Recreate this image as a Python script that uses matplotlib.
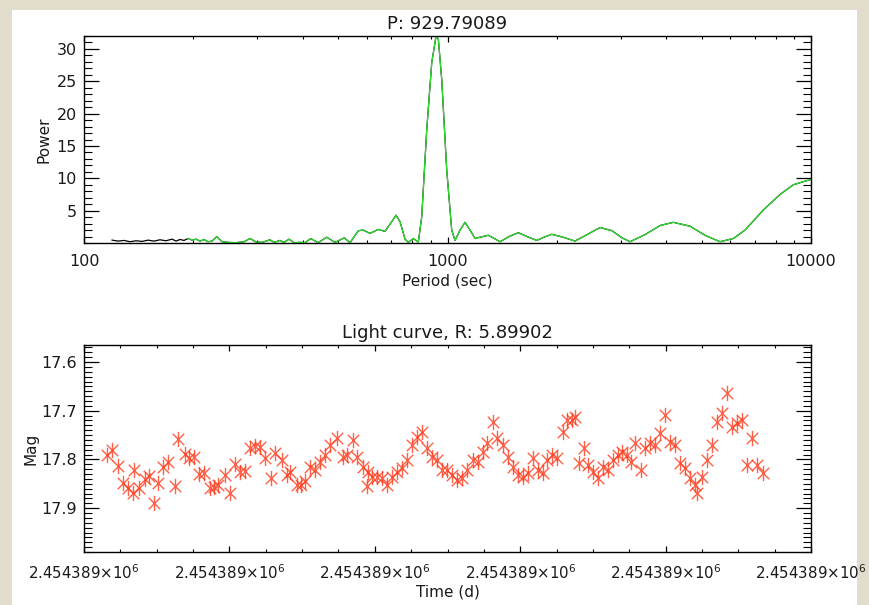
import matplotlib
matplotlib.use('Agg')
import matplotlib.pyplot as plt
from matplotlib.path import Path
from matplotlib.patches import Rectangle
from matplotlib.ticker import MultipleLocator, FixedLocator, FixedFormatter, LogLocator, NullFormatter, FuncFormatter

# periodogram (period in sec, power)
period = [119.4, 124.0, 128.9, 133.8, 139.0, 144.4, 150.0, 155.8, 161.8, 168.1,
          174.6, 179.1, 183.7, 188.4, 193.2, 198.2, 203.3, 208.5, 213.9, 219.3,
          225.0, 231.8, 239.7, 249.0, 261.9, 275.5, 286.2, 297.3, 308.8, 324.8,
          333.2, 346.0, 354.9, 366.4, 378.2, 392.8, 405.5, 420.4, 440.3, 465.2,
          490.3, 520.1, 539.2, 568.3, 585.5, 612.0, 645.1, 673.0, 702.3, 721.6,
          740.2, 764.0, 780.1, 805.2, 831.2, 849.3, 876.6, 904.9, 929.79, 943.4,
          963.9, 994.9, 1026.9, 1048.7, 1082.5, 1117.3, 1153.3, 1190.5, 1228.8, 1295.1,
          1394.6, 1476.4, 1566.0, 1654.8, 1759.7, 1842.9, 1935.0, 2078.5, 2242.8, 2419.8,
          2627.7, 2835.4, 3020.0, 3177.0, 3494.4, 3842.6, 4180.6, 4647.0, 5109.6, 5619.0,
          6113.5, 6583.0, 7392.0, 8216.5, 8940.4, 9935.3]
power = [0.45, 0.3, 0.4, 0.2, 0.35, 0.25, 0.45, 0.3, 0.5, 0.35,
         0.6, 0.3, 0.55, 0.4, 0.7, 0.45, 0.6, 0.3, 0.55, 0.2,
         0.3, 1.0, 0.2, 0.1, 0.05, 0.2, 0.7, 0.15, 0.1, 0.5,
         0.1, 0.4, 0.1, 0.6, 0.05, 0.1, 0.05, 0.7, 0.05, 0.9,
         0.1, 0.8, 0.05, 1.9, 2.0, 1.5, 2.1, 1.8, 3.3, 4.3,
         3.3, 0.6, 0.1, 0.7, 0.15, 4.1, 17.5, 27.9, 32.0, 31.5,
         25.3, 11.3, 2.0, 0.4, 2.0, 3.2, 2.0, 0.7, 0.9, 1.2,
         0.2, 1.0, 1.6, 1.0, 0.4, 0.9, 1.35, 0.9, 0.3, 1.3,
         2.4, 1.9, 0.8, 0.2, 1.3, 2.7, 3.2, 2.6, 1.2, 0.2,
         0.7, 2.0, 5.1, 7.5, 9.0, 9.8]
best_period = 929.79089

# light curve: time offset (d) from t_start, R magnitude
t_start = 2454389.30
time_offset = [0.00312, 0.00381, 0.00472, 0.00541, 0.00609, 0.00678, 0.00685, 0.00761, 0.00839, 0.00898,
               0.00963, 0.01022, 0.01091, 0.01160, 0.01252, 0.01297, 0.01389, 0.01448, 0.01517, 0.01586,
               0.01651, 0.01733, 0.01788, 0.01847, 0.01939, 0.02008, 0.02077, 0.02146, 0.02215, 0.02283,
               0.02352, 0.02421, 0.02490, 0.02568, 0.02627, 0.02719, 0.02788, 0.02834, 0.02926, 0.02981,
               0.03040, 0.03109, 0.03177, 0.03246, 0.03315, 0.03384, 0.03476, 0.03567, 0.03613, 0.03696,
               0.03751, 0.03842, 0.03889, 0.03911, 0.03957, 0.04026, 0.04095, 0.04164,
               0.04232, 0.04301, 0.04370, 0.04447, 0.04516, 0.04576, 0.04645, 0.04714, 0.04783, 0.04851,
               0.04920, 0.04989, 0.05058, 0.05135, 0.05195, 0.05272, 0.05355, 0.05424, 0.05484, 0.05547,
               0.05630, 0.05685, 0.05768, 0.05836, 0.05905, 0.05974, 0.06043, 0.06111, 0.06180, 0.06249,
               0.06309, 0.06364, 0.06433, 0.06502, 0.06593, 0.06640, 0.06708, 0.06754, 0.06809, 0.06878,
               0.06937, 0.07006, 0.07074, 0.07143, 0.07212, 0.07281, 0.07349, 0.07396, 0.07465, 0.07520,
               0.07579, 0.07657, 0.07717, 0.07785, 0.07854, 0.07923, 0.07992, 0.08060, 0.08129, 0.08198,
               0.08267, 0.08336, 0.08404, 0.08428, 0.08497, 0.08565, 0.08634, 0.08703, 0.08772, 0.08840,
               0.08909, 0.08978, 0.09047, 0.09116, 0.09184, 0.09253, 0.09336]
mag = [17.791, 17.781, 17.814, 17.848, 17.859, 17.869, 17.822, 17.859, 17.840, 17.834,
       17.890, 17.848, 17.816, 17.805, 17.855, 17.758, 17.789, 17.797, 17.795, 17.830,
       17.828, 17.859, 17.857, 17.853, 17.832, 17.869, 17.809, 17.826, 17.824, 17.777,
       17.772, 17.775, 17.797, 17.838, 17.787, 17.801, 17.832, 17.826, 17.853, 17.853,
       17.844, 17.816, 17.822, 17.805, 17.791, 17.770, 17.756, 17.795, 17.791, 17.760,
       17.795, 17.816, 17.855, 17.826, 17.836, 17.836, 17.838, 17.853,
       17.836, 17.826, 17.818, 17.801, 17.770, 17.754, 17.744, 17.777, 17.795, 17.801,
       17.822, 17.822, 17.832, 17.842, 17.838, 17.822, 17.801, 17.805, 17.785, 17.766,
       17.723, 17.756, 17.770, 17.795, 17.816, 17.832, 17.836, 17.828, 17.797, 17.822,
       17.828, 17.801, 17.791, 17.797, 17.744, 17.719, 17.719, 17.713, 17.807, 17.777,
       17.811, 17.826, 17.838, 17.816, 17.822, 17.801, 17.791, 17.785, 17.791, 17.805,
       17.766, 17.822, 17.777, 17.766, 17.770, 17.746, 17.709, 17.764, 17.770, 17.807,
       17.818, 17.838, 17.853, 17.869, 17.836, 17.801, 17.770, 17.723, 17.705, 17.664,
       17.733, 17.725, 17.719, 17.811, 17.756, 17.811, 17.828]
amp_r = 5.89902

time = [t_start + dt for dt in time_offset]

plt.rcParams['font.family'] = 'DejaVu Sans'
txt = '#1a1a1a'

fig = plt.figure(figsize=(8.7, 6.05), dpi=100)
fig.patch.set_facecolor('#e2dccd')
fig.add_artist(Rectangle((12 / 870, 0), 845 / 870, 595 / 605, transform=fig.transFigure,
                         facecolor='white', edgecolor='none', zorder=-10))

# --- periodogram
ax1 = fig.add_axes([0.0966, 0.5983, 0.8356, 0.3422])
ax1.plot(period, power, color='black', lw=0.9)
ax1.plot(period[14:], power[14:], color='#2ee02e', lw=0.9)
ax1.set_xscale('log')
ax1.set_xlim(100, 10000)
ax1.set_ylim(0, 32)
ax1.xaxis.set_major_locator(FixedLocator([100, 1000, 10000]))
ax1.xaxis.set_major_formatter(FixedFormatter(['100', '1000', '10000']))
ax1.xaxis.set_minor_locator(LogLocator(base=10, subs=range(2, 10)))
ax1.xaxis.set_minor_formatter(NullFormatter())
ax1.yaxis.set_major_locator(FixedLocator([5, 10, 15, 20, 25, 30]))
ax1.yaxis.set_minor_locator(MultipleLocator(1))
ax1.set_title('P: %.5f' % best_period, fontsize=13, color=txt, pad=5)
ax1.set_xlabel('Period (sec)', fontsize=11, color=txt, labelpad=3)
ax1.set_ylabel('Power', fontsize=11, color=txt, labelpad=4)

# --- light curve
star = Path([(0, -1), (0, 1), (-0.75, -0.75), (0.75, 0.75), (-0.75, 0.75), (0.75, -0.75)],
            [Path.MOVETO, Path.LINETO, Path.MOVETO, Path.LINETO, Path.MOVETO, Path.LINETO])
ax2 = fig.add_axes([0.0966, 0.0876, 0.8356, 0.3422])
ax2.plot(time, mag, linestyle='none', marker=star, ms=11, mfc='none',
         mec='#ff3a1a', mew=1.0, alpha=0.8)
ax2.set_xlim(t_start, t_start + 0.1)
ax2.set_ylim(17.99, 17.565)
ax2.xaxis.set_major_locator(FixedLocator([t_start + 0.02 * i for i in range(6)]))
ax2.xaxis.set_minor_locator(MultipleLocator(0.005))
ax2.xaxis.set_major_formatter(FuncFormatter(lambda v, p: '%.6f$\\times$10$^{6}$' % (v / 1e6)))
ax2.yaxis.set_major_locator(FixedLocator([17.6, 17.7, 17.8, 17.9]))
ax2.yaxis.set_major_formatter(FuncFormatter(lambda v, p: '%.1f' % v))
ax2.yaxis.set_minor_locator(MultipleLocator(0.01))
ax2.set_title('Light curve, R: %.5f' % amp_r, fontsize=13, color=txt, pad=5)
ax2.set_xlabel('Time (d)', fontsize=11, color=txt, labelpad=2)
ax2.set_ylabel('Mag', fontsize=11, color=txt, labelpad=2)

for ax in (ax1, ax2):
    for s in ax.spines.values():
        s.set_color('black')
        s.set_linewidth(1.0)
    ax.tick_params(which='both', direction='in', top=True, right=True, colors='black',
                   labelcolor=txt, labelsize=11.5)
    ax.tick_params(axis='y', which='major', length=11, width=0.9, pad=5)
    ax.tick_params(axis='y', which='minor', length=5.5, width=0.8)
    ax.tick_params(axis='x', which='major', length=4, width=0.9, pad=8)
    ax.tick_params(axis='x', which='minor', length=2.5, width=0.8)
ax2.tick_params(axis='x', which='major', labelsize=10.8)

fig.savefig('out.png', dpi=100, facecolor=fig.get_facecolor())
